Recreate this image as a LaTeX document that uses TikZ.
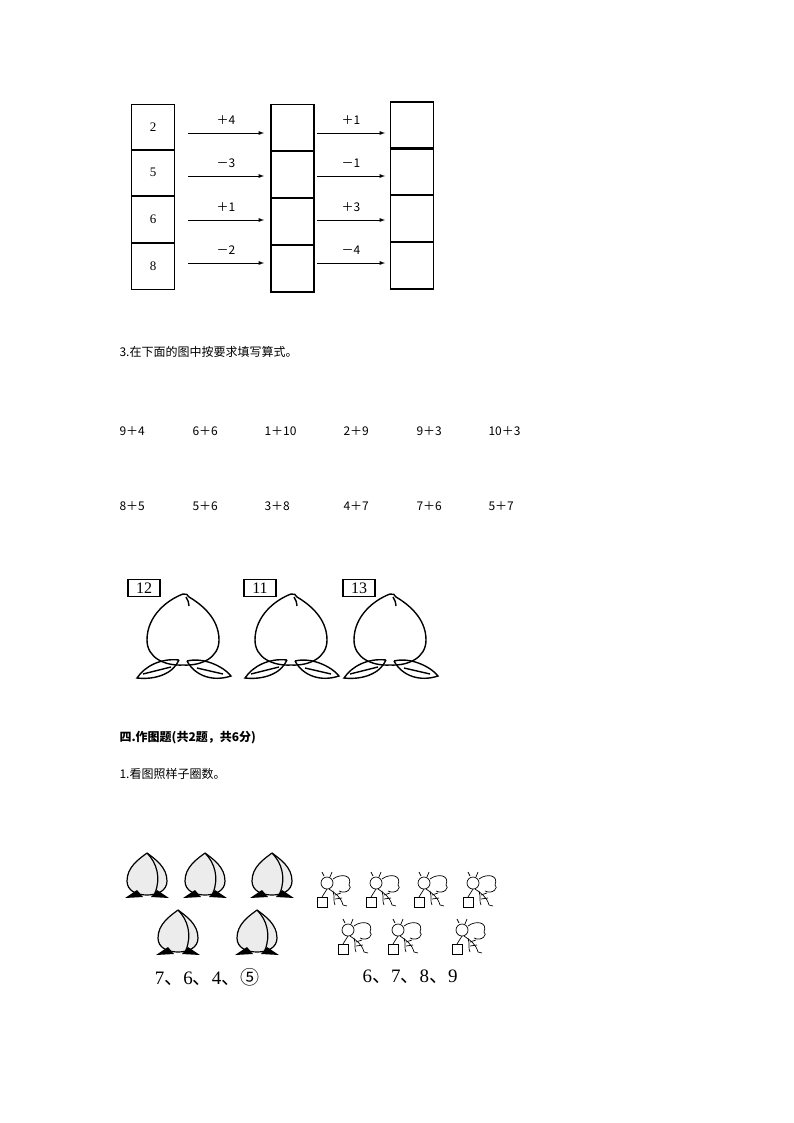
\documentclass[tikz,border=0pt]{standalone}
\usepackage{fontspec}
\setmainfont{Liberation Serif}
\newfontfamily\cjk{Noto Sans CJK SC}
\begin{document}
\begin{tikzpicture}[x=1pt,y=-1pt,
  cell/.style={draw,line width=1.5pt,minimum width=43pt,minimum height=47pt,inner sep=0,font=\fontsize{13}{13}\selectfont},
  arr/.style={-latex,line width=0.9pt},
  op/.style={font=\cjk\fontsize{12}{12}\selectfont},
  ex/.style={anchor=west,font=\cjk\fontsize{12}{12}\selectfont},
  cn/.style={anchor=west,font=\cjk\fontsize{12}{12}\selectfont},
  tag/.style={draw,line width=1.2pt,minimum width=32pt,minimum height=17pt,inner sep=0,font=\fontsize{16}{16}\selectfont},
  nums/.style={font=\fontsize{19}{19}\selectfont}]
\useasboundingbox (0,0) rectangle (794,1123);
% columns
\foreach \n/\v/\y in {1/2/127.5,2/5/172.5,3/6/219.5,4/8/266.5}{
  \node[cell,minimum height=46pt] (a\n) at (153,\y) {\v};}
\foreach \n/\y in {1/128,2/174.5,3/221.5,4/268.5}{
  \node[cell] (b\n) at (292.5,\y) {};}
\foreach \n/\y in {1/125.5,2/171.5,3/218.5,4/265.5}{
  \node[cell] (c\n) at (412,\y) {};}
\foreach \n/\y/\l in {1/133/{＋4},2/176/{－3},3/220/{＋1},4/263/{－2}}{
  \coordinate (s\n) at (188,\y); \coordinate (e\n) at (264,\y);
  \draw[arr] (s\n) -- (e\n) node[midway,above=5pt,op] {\l};}
\foreach \n/\y/\l in {1/133/{＋1},2/176/{－1},3/220/{＋3},4/263/{－4}}{
  \coordinate (t\n) at (317,\y); \coordinate (f\n) at (385,\y);
  \draw[arr] (t\n) -- (f\n) node[midway,above=5pt,op] {\l};}
% question 3
\node[cn] (q3) at (116,352) {3.在下面的图中按要求填写算式。};
\foreach \x/\t [count=\i] in {116/9＋4,189/6＋6,261/1＋10,340/2＋9,413/9＋3,485/10＋3}{
  \node[ex] (r\i) at (\x,431) {\t};}
\foreach \x/\t [count=\i] in {116/8＋5,189/5＋6,261/3＋8,340/4＋7,413/7＋6,485/5＋7}{
  \node[ex] (s\i) at (\x,506) {\t};}
% tags and peaches
\foreach \cx/\tx/\n in {183/144/12,291/260/11,390/359/13}{
  \node[tag] at (\tx,588) {\n};
  \begin{scope}[shift={(\cx,594)},line width=1.4pt]
    \draw (0,0) .. controls (-16,6) and (-36,22) .. (-36,46) .. controls (-36,64) and (-18,72) .. (0,71)
      .. controls (18,72) and (36,64) .. (36,46) .. controls (36,24) and (18,10) .. (6,3) .. controls (5,1) and (3,-1) .. (0,0);
    \draw (3,3) .. controls (5,6) and (6,9) .. (6,12);
    \draw (-4,66) .. controls (-22,64) and (-38,72) .. (-46,84) .. controls (-28,86) and (-10,80) .. (-4,66);
    \draw (-40,80) -- (-12,73);
    \draw (4,67) .. controls (20,63) and (40,72) .. (48,82) .. controls (30,88) and (12,82) .. (4,67);
    \draw (14,74) -- (40,80);
  \end{scope}}
% section four
\node[cn,font=\cjk\bfseries\fontsize{12}{12}\selectfont] (s4) at (116,738) {四.作图题(共2题，共6分)};
\node[cn] (q1) at (116,774) {1.看图照样子圈数。};
% small peaches
\foreach \cx/\cy in {147/853,205/853,272/853,178/910,257/910}{
  \begin{scope}[shift={(\cx,\cy)},line width=1.2pt]
    \fill[gray!15] (0,0) .. controls (-8,6) and (-20,14) .. (-20,28) .. controls (-20,38) and (-10,42) .. (0,42)
      .. controls (10,42) and (20,38) .. (20,28) .. controls (20,14) and (8,6) .. (0,0);
    \draw (0,0) .. controls (-8,6) and (-20,14) .. (-20,28) .. controls (-20,38) and (-10,42) .. (0,42)
      .. controls (10,42) and (20,38) .. (20,28) .. controls (20,14) and (8,6) .. (0,0);
    \draw (0,0) .. controls (10,10) and (14,25) .. (8,40);
    \fill (-22,45) -- (-10,37) -- (-4,44) -- cycle;
    \fill (22,45) -- (10,37) -- (4,44) -- cycle;
  \end{scope}}
\node[nums] (n1) at (207,977) {7{\cjk 、}6{\cjk 、}4{\cjk 、⑤}};
% bees
\foreach \cx/\cy in {331/889,380/889,428/889,477/889,352/936,402/936,466/936}{
  \begin{scope}[shift={(\cx,\cy)},line width=0.7pt]
    \draw (-4,-6) circle (6);
    \draw (-7,-13) -- (-9,-17) (-1,-12) -- (1,-17);
    \draw (2,-10) .. controls (10,-16) and (22,-14) .. (18,-4) .. controls (22,-2) and (16,6) .. (8,2);
    \draw (-2,0) .. controls (4,4) and (10,8) .. (12,16) (2,2) .. controls (4,8) and (2,12) .. (4,16);
    \draw (4,6) -- (10,4) (4,10) -- (11,9);
    \draw (-14,8) rectangle (-4,18);
    \draw (-4,0) -- (-9,8);
    \draw (12,16) -- (16,17);
  \end{scope}}
\node[nums] (n2) at (410,977) {6{\cjk 、}7{\cjk 、}8{\cjk 、}9};
\end{tikzpicture}
\end{document}
